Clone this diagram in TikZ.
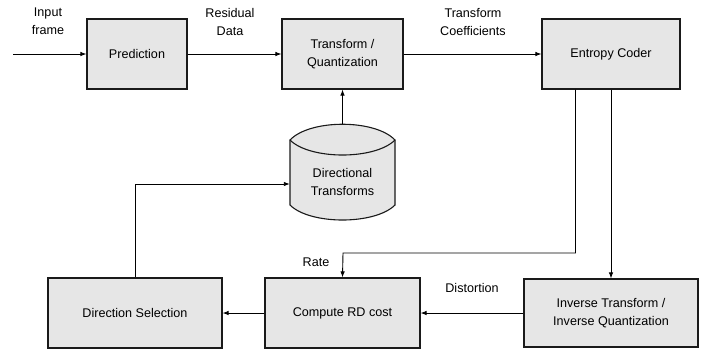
\documentclass[tikz,border=0pt]{standalone}
\usepackage{fontspec}
\setmainfont{Liberation Sans}
\usetikzlibrary{arrows.meta}
\definecolor{boxfill}{HTML}{E6E6E6}
\definecolor{edge}{HTML}{1A1A1A}
\begin{document}
\begin{tikzpicture}[x=1pt,y=-1pt,
  font=\fontsize{12.6}{18}\selectfont,
  block/.style={draw=edge,line width=1.1pt,fill=boxfill,align=center,inner sep=0pt,minimum height=70pt},
  lbl/.style={align=center,inner sep=0pt},
  flow/.style={line width=0.9pt,-{Latex[length=6pt,width=4.5pt]}}]
\useasboundingbox (0,0) rectangle (702,349);

% top row
\node[block,minimum width=100pt] (pred) at (137,54) {Prediction};
\node[block,minimum width=121pt] (tq) at (342.5,54) {Transform /\\Quantization};
\node[block,minimum width=138pt] (ec) at (611,54) {Entropy Coder};

% bottom row
\node[block,minimum width=174pt] (ds) at (135,313) {Direction Selection};
\node[block,minimum width=155pt] (rd) at (342.5,313) {Compute RD cost};
\node[block,minimum width=174pt,minimum height=68pt] (iq) at (611,313) {Inverse Transform /\\Inverse Quantization};

% directional transforms store (cylinder)
\node[inner sep=0pt,minimum width=105pt,minimum height=96pt] (dt) at (342.5,172) {};
\draw[draw=edge,line width=1.1pt,fill=boxfill]
  (290,140) .. controls (310,119) and (375,119) .. (395,140) -- (395,205)
  .. controls (375,225) and (310,225) .. (290,205) -- cycle;
\draw[draw=edge,line width=1.1pt]
  (290,140) .. controls (310,160) and (375,160) .. (395,140);
\node[lbl] (dtlabel) at (342.5,182) {Directional\\Transforms};

% input
\coordinate (in) at (13,54);
\node[lbl] (inlabel) at (48,21.5) {Input\\frame};
\node[lbl] (reslabel) at (230,21.5) {Residual\\Data};
\node[lbl] (coeflabel) at (473,21.5) {Transform\\Coefficients};
\node[lbl] (ratelabel) at (316,262) {Rate};
\node[lbl] (distlabel) at (472,288) {Distortion};

% connectors
\draw[flow] (in) -- (pred.west);
\draw[flow] (pred.east) -- (tq.west);
\draw[flow] (tq.east) -- (ec.west);
\draw[flow] (dt.north) -- (tq.south);
\draw[flow] ([xshift=-35.5pt]ec.south) |- (343,253) -- (rd.north);
\draw[flow] (ec.south) -- (iq.north);
\draw[flow] (iq.west) -- (rd.east);
\draw[flow] (rd.west) -- (ds.east);
\draw[flow] (ds.north) |- ([yshift=-12pt]dt.west);
\end{tikzpicture}
\end{document}
